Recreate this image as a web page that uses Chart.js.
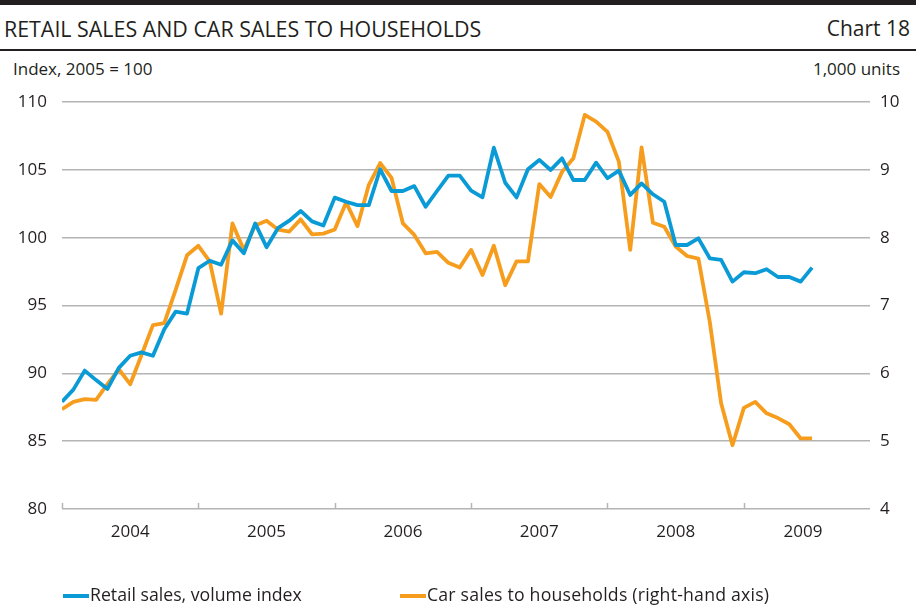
<!DOCTYPE html>
<html>
<head>
<meta charset="utf-8">
<script src="https://cdn.jsdelivr.net/npm/chart.js@4.4.1/dist/chart.umd.min.js"></script>
<style>
  body { margin: 0; width: 916px; height: 613px; overflow: hidden; background: #fff;
         font-family: "Open Sans", sans-serif; color: #231f20; position: relative; }
  #topbar { position: absolute; left: 0; top: 0; width: 916px; height: 5px; background: #231f20; }
  #rule { position: absolute; left: 0; top: 49px; width: 916px; height: 2px; background: #231f20; }
  .txt { position: absolute; white-space: nowrap; }
  #title { left: 4px; top: 14px; font-size: 21.4px; }
  #chartno { right: 6px; top: 14px; font-size: 21px; }
  #unitL { left: 13px; top: 57px; font-size: 17px; }
  #unitR { right: 16px; top: 57px; font-size: 17px; }
  .leg { position: absolute; top: 582px; font-size: 17.7px; }
  .leg i { display: inline-block; width: 26px; height: 4px; vertical-align: middle; margin-right: 1px; }
  canvas { position: absolute; left: 0; top: 0; }
</style>
</head>
<body>
<div id="topbar"></div>
<div class="txt" id="title">RETAIL SALES AND CAR SALES TO HOUSEHOLDS</div>
<div class="txt" id="chartno">Chart 18</div>
<div id="rule"></div>
<div class="txt" id="unitL">Index, 2005 = 100</div>
<div class="txt" id="unitR">1,000 units</div>
<canvas id="c" width="916" height="613"></canvas>
<div class="leg" style="left:63px"><i style="background:#0a9bd7"></i>Retail sales, volume index</div>
<div class="leg" style="left:400px; letter-spacing:0.2px"><i style="background:#f69d1e"></i>Car sales to households (right-hand axis)</div>
<script>
// monthly data from Jan 2004
const retailSales = [
  87.9, 88.8, 90.2, 89.5, 88.85, 90.4, 91.3, 91.55, 91.3, 93.25, 94.55, 94.4,
  97.75, 98.3, 98.0, 99.8, 98.85, 101.05, 99.3, 100.7, 101.25, 101.97, 101.2, 100.9,
  102.95, 102.65, 102.4, 102.4, 105.04, 103.44, 103.44, 103.8, 102.28, 103.44, 104.57, 104.57,
  103.46, 102.97, 106.63, 104.05, 102.97, 105.04, 105.73, 104.99, 105.85, 104.25, 104.25, 105.53,
  104.38, 104.94, 103.15, 104.0, 103.2, 102.65, 99.46, 99.46, 99.95, 98.48, 98.36, 96.76,
  97.45, 97.38, 97.67, 97.1, 97.1, 96.76, 97.79
];
const carSales = [
  5.47, 5.58, 5.62, 5.61, 5.84, 6.06, 5.84, 6.27, 6.71, 6.74, 7.23, 7.74,
  7.88, 7.65, 6.88, 8.21, 7.82, 8.18, 8.25, 8.12, 8.09, 8.27, 8.05, 8.06,
  8.12, 8.52, 8.17, 8.78, 9.10, 8.88, 8.21, 8.04, 7.77, 7.79, 7.63, 7.56,
  7.82, 7.45, 7.88, 7.30, 7.65, 7.65, 8.79, 8.60, 8.97, 9.17, 9.81, 9.71,
  9.56, 9.12, 7.82, 9.33, 8.22, 8.16, 7.87, 7.73, 7.69, 6.76, 5.56, 4.94,
  5.49, 5.58, 5.41, 5.34, 5.25, 5.04, 5.04
];
const years = ['2004', '2005', '2006', '2007', '2008', '2009'];
const yearCenters = [6, 18, 30, 42, 54, 65.2];   // month index where the year label sits
const yearStarts = [0, 12, 24, 36, 48, 60];

const blue = '#0a9bd7';
const orange = '#f69d1e';
const gridCol = '#b4b4b4';
const textCol = '#231f20';
const tickFont = { family: 'Open Sans', size: 17 };

const toPoints = arr => arr.map((v, i) => ({ x: i, y: v }));

// small tick marks at year boundaries, pointing up from the bottom line
const yearTicks = {
  id: 'yearTicks',
  beforeDatasetsDraw(chart) {
    const { ctx, chartArea, scales } = chart;
    ctx.save();
    ctx.strokeStyle = gridCol;
    ctx.lineWidth = 1.5;
    yearStarts.forEach(m => {
      const px = Math.round(scales.x.getPixelForValue(m)) + 0.5;
      ctx.beginPath();
      ctx.moveTo(px, chartArea.bottom);
      ctx.lineTo(px, chartArea.bottom - 6);
      ctx.stroke();
    });
    ctx.restore();
  }
};

new Chart(document.getElementById('c'), {
  type: 'line',
  data: {
    datasets: [
      { label: 'Retail sales, volume index', data: toPoints(retailSales), yAxisID: 'y',
        borderColor: blue, borderWidth: 3.8, pointRadius: 0, tension: 0, borderJoinStyle: 'round' },
      { label: 'Car sales to households (right-hand axis)', data: toPoints(carSales), yAxisID: 'y1',
        borderColor: orange, borderWidth: 3.8, pointRadius: 0, tension: 0, borderJoinStyle: 'round' }
    ]
  },
  options: {
    responsive: false,
    animation: false,
    layout: { padding: { top: 102, bottom: 0, left: 0, right: 0 } },
    plugins: { legend: { display: false }, tooltip: { enabled: false } },
    scales: {
      x: {
        type: 'linear', min: 0, max: 71.1,
        grid: { display: false, drawTicks: false },
        border: { display: false },
        afterBuildTicks: axis => { axis.ticks = yearCenters.map(v => ({ value: v })); },
        afterFit: scale => { scale.height = 104; },
        ticks: { callback: (v, i) => years[i], color: textCol, padding: 13, maxRotation: 0,
                 autoSkip: false, font: tickFont }
      },
      y: {
        position: 'left', min: 80, max: 110,
        grid: { color: gridCol, lineWidth: 1.5, drawTicks: false },
        border: { display: false },
        afterFit: scale => { scale.width = 62; },
        ticks: { stepSize: 5, color: textCol, padding: 15, font: tickFont }
      },
      y1: {
        position: 'right', min: 4, max: 10,
        grid: { display: false, drawTicks: false },
        border: { display: false },
        afterFit: scale => { scale.width = 46; },
        ticks: { stepSize: 1, color: textCol, padding: 10, font: tickFont }
      }
    }
  },
  plugins: [yearTicks]
});
</script>
</body>
</html>
